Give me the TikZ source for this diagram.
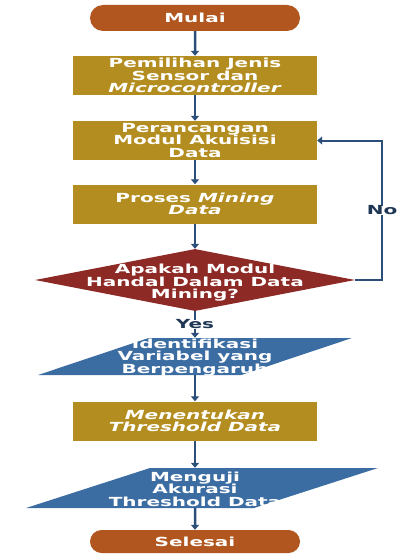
\documentclass[tikz,border=0pt]{standalone}
\usepackage{fontspec}
\setmainfont{DejaVu Sans}[FakeStretch=1.6]
\usetikzlibrary{shapes.geometric,shapes.misc,arrows.meta}
\definecolor{terminalc}{HTML}{B0561E}
\definecolor{prosesc}{HTML}{B38D1F}
\definecolor{cekc}{HTML}{8E2A26}
\definecolor{iodata}{HTML}{3C6DA2}
\definecolor{panah}{HTML}{2C4F7A}

\begin{document}
\begin{tikzpicture}[x=1pt,y=-1pt,
        font=\fontsize{12.5}{12.5}\selectfont\bfseries,
        every node/.style={text=white,align=center,inner sep=0pt},
        terminal/.style={rounded rectangle,fill=terminalc,minimum width=210pt,minimum height=26pt},
        proses/.style={rectangle,fill=prosesc,minimum width=244pt,minimum height=39pt},
        keputusan/.style={diamond,fill=cekc,minimum width=320pt,minimum height=62pt},
        masukan/.style={trapezium,trapezium left angle=40,trapezium right angle=140,
            trapezium stretches=true,fill=iodata,minimum height=37pt,inner sep=1pt},
        ket/.style={fill=white,text=panah!70!black},
        alur/.style={draw=panah,line width=2.5pt,-{Triangle[length=5pt,width=8pt]}}]
    \useasboundingbox (0,0) rectangle (399,559);
    \node[terminal] (mulai) at (195,18) {Mulai};
    \node[proses] (sensor) at (195,75.5) {Pemilihan Jenis\\Sensor dan\\\textit{Microcontroller}};
    \node[proses] (rancang) at (195,140.5) {Perancangan\\Modul Akuisisi\\Data};
    \node[proses] (mining) at (195,204) {Proses \textit{Mining}\\\textit{Data}};
    \node[keputusan] (cek) at (195,280) {};
    \node (cektxt) at (195,283) {Apakah Modul\\Handal Dalam Data\\Mining?};
    \node[masukan,minimum width=314pt] (variabel) at (195,356.5) {};
    \node (variabeltxt) at (195,357.5) {Identifikasi\\Variabel yang\\Berpengaruh};
    \node[proses] (ambang) at (195,421) {\textit{Menentukan}\\\textit{Threshold Data}};
    \node[masukan,minimum width=352pt,minimum height=40pt] (uji) at (202,488) {};
    \node (ujitxt) at (195,489) {Menguji\\Akurasi\\Threshold Data};
    \node[terminal,minimum height=23pt] (selesai) at (195,541.5) {Selesai};

    \draw[alur] (mulai) -- (sensor);
    \draw[alur] (sensor) -- (rancang);
    \draw[alur] (rancang) -- (mining);
    \draw[alur] (mining) -- (cek);
    \draw[alur] (cek) -- node[ket] {Yes} (variabel);
    \draw[alur,line width=2pt] (cek.east) -- ++(27,0) |- node[ket,pos=0.25] {No} (rancang.east);
    \draw[alur] (variabel) -- (ambang);
    \draw[alur] (ambang) -- (ambang |- uji.north);
    \draw[alur] (selesai |- uji.south) -- (selesai);
\end{tikzpicture}
\end{document}
